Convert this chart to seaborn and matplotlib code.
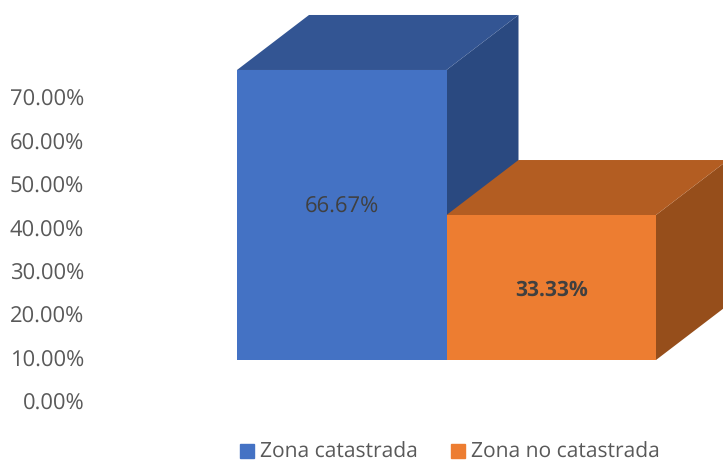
import matplotlib
matplotlib.use("Agg")
import matplotlib.pyplot as plt
import numpy as np
import pandas as pd
import seaborn as sns
from matplotlib.patches import Patch

zonas = ["Zona catastrada", "Zona no catastrada"]
porcentajes = [66.67, 33.33]
ticks = [0, 10, 20, 30, 40, 50, 60, 70]

colores = ["#4472C4", "#ED7D31"]
colores_techo = ["#335593", "#B35D22"]
colores_lado = ["#2A4980", "#964E1B"]

W, H = 723, 463
sns.set_theme(style="white")
plt.rcParams["font.family"] = ["Open Sans", "DejaVu Sans"]
plt.rcParams["text.hinting"] = "none"
plt.rcParams["text.hinting_factor"] = 1
GRIS = "#595959"

fig = plt.figure(figsize=(W / 100, H / 100), dpi=100)

# front faces, pixel box of the two bars
ax = fig.add_axes([237 / W, (H - 360) / H, 419 / W, 345 / H])
df = pd.DataFrame({"zona": zonas, "pct": porcentajes})
sns.barplot(data=df, x="zona", y="pct", hue="zona", palette=colores,
            saturation=1, width=1, legend=False, ax=ax, linewidth=0)
ax.set_xlim(-0.5, 1.5)
ax.set_ylim(0, 345 / 4.35)
ax.axis("off")

# fake 3d depth, same offset for both bars
dx = 72 / 209.5
dy = 55 / 4.35
for i, val in enumerate(porcentajes):
    x0, x1 = i - 0.5, i + 0.5
    z = 1 + i * 3
    ax.fill([x1, x1 + dx, x1 + dx, x1], [0, dy, val + dy, val],
            color=colores_lado[i], lw=0, clip_on=False, zorder=z)
    ax.fill([x0, x1, x1 + dx, x0 + dx], [val, val, val + dy, val + dy],
            color=colores_techo[i], lw=0, clip_on=False, zorder=z)
ax.patches[0].set_zorder(3)
ax.patches[1].set_zorder(5)

ax.annotate("66.67%", (0, porcentajes[0] / 2), xytext=(0, 6), textcoords="offset points",
            ha="center", va="center", fontsize=15.5, color="#404040", zorder=10)
ax.annotate("33.33%", (1, porcentajes[1] / 2), xytext=(0, -1.7), textcoords="offset points",
            ha="center", va="center", fontsize=15.2, color="#404040", fontweight="bold", zorder=10)

# value axis sits lower than the bars
ax_y = fig.add_axes([85 / W, (H - 401.6) / H, 10 / W, 304 / H])
ax_y.set_ylim(0, 70)
ax_y.set_yticks(ticks)
ax_y.set_yticklabels([f"{t:.2f}%" for t in ticks], fontsize=15.5, color=GRIS)
ax_y.tick_params(axis="y", length=0, pad=0.5)
ax_y.set_xticks([])
ax_y.patch.set_alpha(0)
sns.despine(ax=ax_y, left=True, bottom=True)

handles = [Patch(color=c, label=z) for c, z in zip(colores, zonas)]
fig.legend(handles=handles, loc="lower left", bbox_to_anchor=(239.5 / W, 0), ncol=2,
           frameon=False, fontsize=14.9, labelcolor=GRIS, handlelength=0.68, handleheight=0.68,
           handletextpad=0.3, columnspacing=1.6, borderpad=0, borderaxespad=0.0)

fig.savefig("out.png", dpi=100)
